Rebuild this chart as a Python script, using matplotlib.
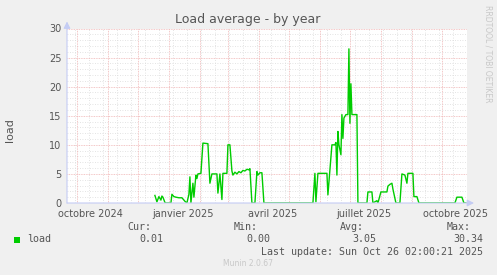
import matplotlib
matplotlib.use('Agg')
import matplotlib.pyplot as plt
import pandas as pd

# load average samples (daily consolidated)
dates = ['2024-12-18', '2024-12-20', '2024-12-22', '2024-12-24', '2024-12-25', '2024-12-26',
         '2024-12-28', '2024-12-29', '2025-01-03', '2025-01-04', '2025-01-06', '2025-01-08',
         '2025-01-11', '2025-01-14', '2025-01-15', '2025-01-17', '2025-01-19', '2025-01-21',
         '2025-01-22', '2025-01-23', '2025-01-25', '2025-01-26', '2025-01-28', '2025-01-29',
         '2025-01-30', '2025-02-02', '2025-02-04', '2025-02-09', '2025-02-11', '2025-02-13',
         '2025-02-18', '2025-02-19', '2025-02-21', '2025-02-23', '2025-02-24', '2025-02-28',
         '2025-03-01', '2025-03-03', '2025-03-05', '2025-03-06', '2025-03-08', '2025-03-10',
         '2025-03-12', '2025-03-14', '2025-03-16', '2025-03-18', '2025-03-20', '2025-03-22',
         '2025-03-23', '2025-03-25', '2025-03-28', '2025-03-30', '2025-03-31', '2025-04-02',
         '2025-04-04', '2025-04-06', '2025-05-25', '2025-05-27', '2025-05-28', '2025-05-30',
         '2025-06-08', '2025-06-09', '2025-06-11', '2025-06-13', '2025-06-16', '2025-06-17',
         '2025-06-18', '2025-06-19', '2025-06-20', '2025-06-22', '2025-06-23', '2025-06-24',
         '2025-06-25', '2025-06-27', '2025-06-29', '2025-06-30', '2025-07-01', '2025-07-02',
         '2025-07-03', '2025-07-08', '2025-07-09', '2025-07-18', '2025-07-19', '2025-07-23',
         '2025-07-24', '2025-07-28', '2025-07-29', '2025-08-01', '2025-08-07', '2025-08-08',
         '2025-08-10', '2025-08-12', '2025-08-13', '2025-08-16', '2025-08-20', '2025-08-22',
         '2025-08-25', '2025-08-27', '2025-08-28', '2025-08-30', '2025-09-02', '2025-09-03',
         '2025-09-06', '2025-09-08', '2025-10-14', '2025-10-16', '2025-10-21', '2025-10-23',
         '2025-10-25']
load = [1.3, 0.2, 1.1, 0.5, 1.2, 1.0,
        0.1, 0.0, 0.0, 1.5, 1.1, 1.0,
        0.9, 0.9, 0.7, 0.3, 0.0, 1.5,
        4.5, 0.0, 3.4, 1.0, 4.8, 4.2,
        5.0, 5.1, 10.3, 10.2, 3.4, 5.0,
        5.0, 1.7, 5.0, 0.6, 5.1, 5.1,
        10.0, 10.0, 5.5, 4.8, 5.3, 5.0,
        5.4, 5.2, 5.6, 5.5, 5.8, 5.7,
        5.9, 0.0, 0.0, 5.4, 4.8, 5.2,
        5.2, 0.0, 0.0, 5.1, 0.2, 5.1,
        5.1, 1.4, 5.7, 10.0, 10.0, 10.4,
        4.8, 12.3, 10.0, 8.3, 15.2, 11.1,
        14.6, 15.2, 15.2, 26.5, 13.7, 20.5,
        15.2, 15.2, 0.0, 0.0, 1.9, 1.9,
        0.0, 0.4, 0.0, 1.9, 1.9, 2.9,
        3.2, 3.4, 2.4, 0.0, 0.0, 5.0,
        4.8, 3.4, 5.1, 5.1, 5.1, 1.1,
        1.1, 0.0, 0.0, 1.0, 1.0, 0.0,
        0.0]

tick_labels = ['octobre 2024', 'janvier 2025', 'avril 2025', 'juillet 2025', 'octobre 2025']
tick_dates = ['2024-10-15', '2025-01-15', '2025-04-15', '2025-07-15', '2025-10-15']

legend_stats = {'Cur:': '0.01', 'Min:': '0.00', 'Avg:': '3.05', 'Max:': '30.34'}
last_update = 'Last update: Sun Oct 26 02:00:21 2025'

W, H = 497, 275
end = pd.Timestamp('2025-10-26 02:00')
start = end - pd.Timedelta(days=400)

fig = plt.figure(figsize=(W / 100, H / 100), dpi=100, facecolor='#f0f0f0')
ax = fig.add_axes([67 / W, 72 / H, 400 / W, 174.5 / H])
ax.set_facecolor('white')

# grid: grey every unit / two weeks, red every 5 / month
for y in range(0, 31):
    if y % 5:
        ax.axhline(y, color='#dadada', lw=0.6, ls=(0, (1, 2)), zorder=1)
for d in pd.date_range('2024-09-29', '2025-10-26', freq='14D'):
    ax.axvline(d, color='#dadada', lw=0.6, ls=(0, (1, 2)), zorder=1)
for y in range(5, 31, 5):
    ax.axhline(y, color='#f0b4b4', lw=0.6, ls=(0, (1, 1)), zorder=2)
for d in pd.date_range('2024-10-01', '2025-10-26', freq='MS'):
    ax.axvline(d, color='#f0b4b4', lw=0.6, ls=(0, (1, 1)), zorder=2)

ax.plot(pd.to_datetime(dates), load, color='#00cc00', lw=1.0, zorder=3)

ax.set_xlim(start, end)
ax.set_ylim(0, 30)
ax.set_yticks(range(0, 31, 5))
ax.set_xticks(pd.to_datetime(tick_dates))
ax.set_xticklabels(tick_labels)
ax.tick_params(length=0, labelsize=7, colors='#555555', pad=4)
for s in ax.spines.values():
    s.set_visible(False)

# axis lines with arrows
axis_col = '#c4ccf4'
ax.annotate('', xy=(1 + 7 / 400, 0), xytext=(0, 0), xycoords='axes fraction',
            arrowprops=dict(arrowstyle='-|>,head_length=0.4,head_width=0.2', color=axis_col, lw=0.8,
                            shrinkA=0, shrinkB=0), annotation_clip=False, zorder=4)
ax.annotate('', xy=(0, 1 + 7 / 174.5), xytext=(0, 0), xycoords='axes fraction',
            arrowprops=dict(arrowstyle='-|>,head_length=0.4,head_width=0.2', color=axis_col, lw=0.8,
                            shrinkA=0, shrinkB=0), annotation_clip=False, zorder=4)


def px(x, y):
    return x / W, 1 - y / H


fig.text(*px(248, 19), 'Load average - by year', ha='center', va='center', fontsize=9, color='#555555')
fig.text(*px(10, 130), 'load', ha='center', va='center', rotation=90, fontsize=8, color='#555555')
fig.text(*px(488, 5), 'RRDTOOL / TOBI OETIKER', ha='center', va='top', rotation=270,
         fontsize=5.5, color='#c8c8c8')

mono = dict(family='DejaVu Sans Mono', fontsize=7.2, color='#555555', va='center')
fig.patches.append(plt.Rectangle(px(14, 242.5), 6 / W, 6 / H, transform=fig.transFigure,
                                 facecolor='#00cc00', edgecolor='none'))
fig.text(*px(27, 239.5), 'load', ha='left', **mono)
head_x = [127, 234, 340, 447]
val_x = [163, 270, 376, 483]
for (k, v), hx, vx in zip(legend_stats.items(), head_x, val_x):
    fig.text(*px(hx, 227), k, ha='left', **mono)
    fig.text(*px(vx, 239.5), v, ha='right', **mono)
fig.text(*px(483, 252), last_update, ha='right', **mono)
fig.text(*px(248, 264), 'Munin 2.0.67', ha='center', va='center', fontsize=5.5, color='#c8c8c8')

fig.savefig('out.png', dpi=100, facecolor=fig.get_facecolor())
